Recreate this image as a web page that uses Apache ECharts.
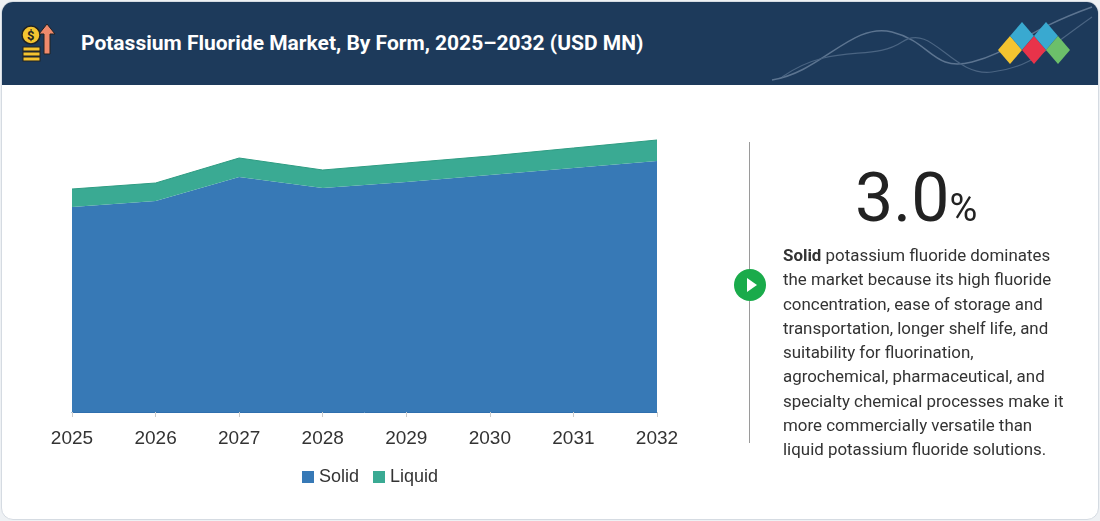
<!DOCTYPE html>
<html><head><meta charset="utf-8">
<script src="https://cdn.jsdelivr.net/npm/echarts@6/dist/echarts.min.js"></script>
<style>
body{margin:0;width:1100px;height:521px;background:#eef1f4;font-family:Roboto,"Noto Sans",sans-serif;overflow:hidden}
#card{position:absolute;left:1px;top:1px;width:1096px;height:517px;background:#fff;border:1px solid #d5dbe2;border-radius:12px;overflow:hidden}
#hdr{position:absolute;left:0;top:0;width:100%;height:83px;background:#1d3a5b}
#title{position:absolute;left:79px;top:29px;color:#fff;font-size:21px;font-weight:bold}
#chart{position:absolute;left:0;top:0;width:1100px;height:521px}
#div{position:absolute;left:749px;top:142px;width:1px;height:301px;background:#9a9a9a}
#play{position:absolute;left:734px;top:269px;width:32px;height:32px;border-radius:50%;background:#1aab4b}
#play:after{content:"";position:absolute;left:13px;top:9px;border-left:10px solid #fff;border-top:7px solid transparent;border-bottom:7px solid transparent}
#big{position:absolute;left:855px;top:158px;font-size:68px;color:#222}
#big span{font-size:38px}
#txt{position:absolute;left:783px;top:243px;width:290px;font-size:16.9px;line-height:24.3px;color:#333}
</style></head><body>
<div id="card"><div id="hdr">
<svg style="position:absolute;left:16px;top:20px" width="44" height="48"><circle cx="13" cy="13" r="9" fill="#f4c430" stroke="#222" stroke-width="1.5"/><text x="9" y="18" font-size="13" font-weight="bold" fill="#222">$</text><rect x="5" y="25" width="17" height="4" fill="#f4c430" stroke="#222"/><rect x="5" y="30" width="17" height="4" fill="#f4c430" stroke="#222"/><rect x="5" y="35" width="17" height="4" fill="#f4c430" stroke="#222"/><path d="M29 2 L37 12 L32 12 L32 32 L26 32 L26 12 L21 12 Z" fill="#f08a6c" stroke="#222"/></svg>
<div id="title">Potassium Fluoride Market, By Form, 2025–2032 (USD MN)</div>
<svg style="position:absolute;left:760px;top:0" width="336" height="83"><path d="M10 78 C60 70,90 20,130 30 S170 70,210 60 S260 30,330 5" stroke="#5c7490" fill="none" stroke-width="1.5"/><path d="M20 75 C70 40,110 60,140 40 S190 75,230 70 S280 50,330 15" stroke="#4a6482" fill="none" stroke-width="1.2"/>
<polygon points="236,48 248,34 260,48 248,62" fill="#f4c430"/><polygon points="248,34 260,20 272,34 260,48" fill="#39a9d0"/><polygon points="260,48 272,34 284,48 272,62" fill="#e8334a"/><polygon points="272,34 284,20 296,34 284,48" fill="#39a9d0"/><polygon points="284,48 296,34 308,48 296,62" fill="#6cbf6a"/></svg>
</div></div>
<div id="chart"></div>
<div id="div"></div><div id="play"></div>
<div id="big">3.0<span>%</span></div>
<div id="txt"><b>Solid</b> potassium fluoride dominates the market because its high fluoride concentration, ease of storage and transportation, longer shelf life, and suitability for fluorination, agrochemical, pharmaceutical, and specialty chemical processes make it more commercially versatile than liquid potassium fluoride solutions.</div>
<script>
const years=["2025","2026","2027","2028","2029","2030","2031","2032"];
const solid=[205,211,235,224,230,237,244,251];
const liquid=[18,18,19,18,19,19,20,21];
const c=echarts.init(document.getElementById('chart'));
c.setOption({
 animation:false,
 grid:{left:72,right:443,top:132,bottom:109},
 legend:{bottom:30,left:297,itemWidth:12,itemHeight:12,itemGap:14,textStyle:{fontSize:18,color:'#333'},icon:'rect',data:['Solid','Liquid']},
 xAxis:{type:'category',data:years,boundaryGap:false,axisLine:{lineStyle:{color:'#2f6fae'}},axisTick:{show:true,lineStyle:{color:'#ccc'}},axisLabel:{fontSize:19,color:'#333',margin:17}},
 yAxis:{type:'value',min:0,max:280,show:false},
 series:[
  {name:'Solid',type:'line',stack:'a',data:solid,symbol:'none',lineStyle:{width:0},areaStyle:{color:'#3779b6',opacity:1},itemStyle:{color:'#3779b6'}},
  {name:'Liquid',type:'line',stack:'a',data:liquid,symbol:'none',lineStyle:{width:1,color:'#2e9c82'},areaStyle:{color:'#3aaa93',opacity:1},itemStyle:{color:'#3aaa93'}}
 ]
});
</script></body></html>
